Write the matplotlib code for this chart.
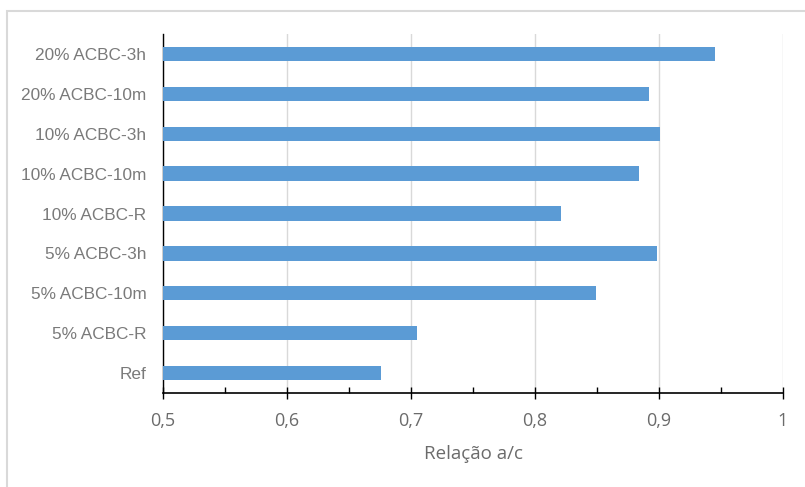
import matplotlib.pyplot as plt
from matplotlib.ticker import MultipleLocator, FuncFormatter
from matplotlib.patches import Rectangle

# dados
amostras = ['Ref', '5% ACBC-R', '5% ACBC-10m', '5% ACBC-3h', '10% ACBC-R',
            '10% ACBC-10m', '10% ACBC-3h', '20% ACBC-10m', '20% ACBC-3h']
relacao_ac = [0.676, 0.705, 0.849, 0.898, 0.821, 0.884, 0.901, 0.892, 0.945]

fig = plt.figure(figsize=(8.05, 4.87), dpi=100)
# moldura cinza clara do gráfico
fig.patches.append(Rectangle((7 / 805, -0.1), 1.1, 1 - 11 / 487 + 0.1,
                             transform=fig.transFigure, fill=False,
                             edgecolor='#d9d9d9', linewidth=1.5))

ax = fig.add_axes([163 / 805, 1 - 393 / 487, 620 / 805, 359 / 487])
ax.barh(range(len(amostras)), [v - 0.5 for v in relacao_ac], left=0.5,
        height=0.36, color='#5B9BD5', zorder=3)

ax.set_xlim(0.5, 1.0)
ax.set_ylim(-0.5, len(amostras) - 0.5)
ax.set_yticks(range(len(amostras)))
ax.set_yticklabels(amostras, fontsize=12.4, color='#7a7a7a',
                   family='Liberation Sans')
ax.tick_params(axis='y', length=0, pad=12)

ax.xaxis.set_major_locator(MultipleLocator(0.1))
ax.xaxis.set_minor_locator(MultipleLocator(0.05))
ax.xaxis.set_major_formatter(FuncFormatter(lambda v, p: ('%g' % round(v, 2)).replace('.', ',')))
ax.tick_params(axis='x', which='major', direction='inout', length=9,
               width=1, color='black', labelsize=13, labelcolor='#6b6b6b', pad=9)
ax.tick_params(axis='x', which='minor', direction='in', length=4, width=1, color='black')
for lbl in ax.get_xticklabels():
    lbl.set_family('Open Sans')
ax.set_xlabel('Relação a/c', fontsize=13.5, color='#6b6b6b', family='Open Sans',
              labelpad=11)

ax.grid(axis='x', color='#d9d9d9', linewidth=1, zorder=0)
for lado in ['top', 'right']:
    ax.spines[lado].set_visible(False)
ax.spines['left'].set_color('black')
ax.spines['bottom'].set_color('black')
ax.spines['left'].set_linewidth(1)
ax.spines['bottom'].set_linewidth(1.2)

fig.savefig('out.png', dpi=100)
